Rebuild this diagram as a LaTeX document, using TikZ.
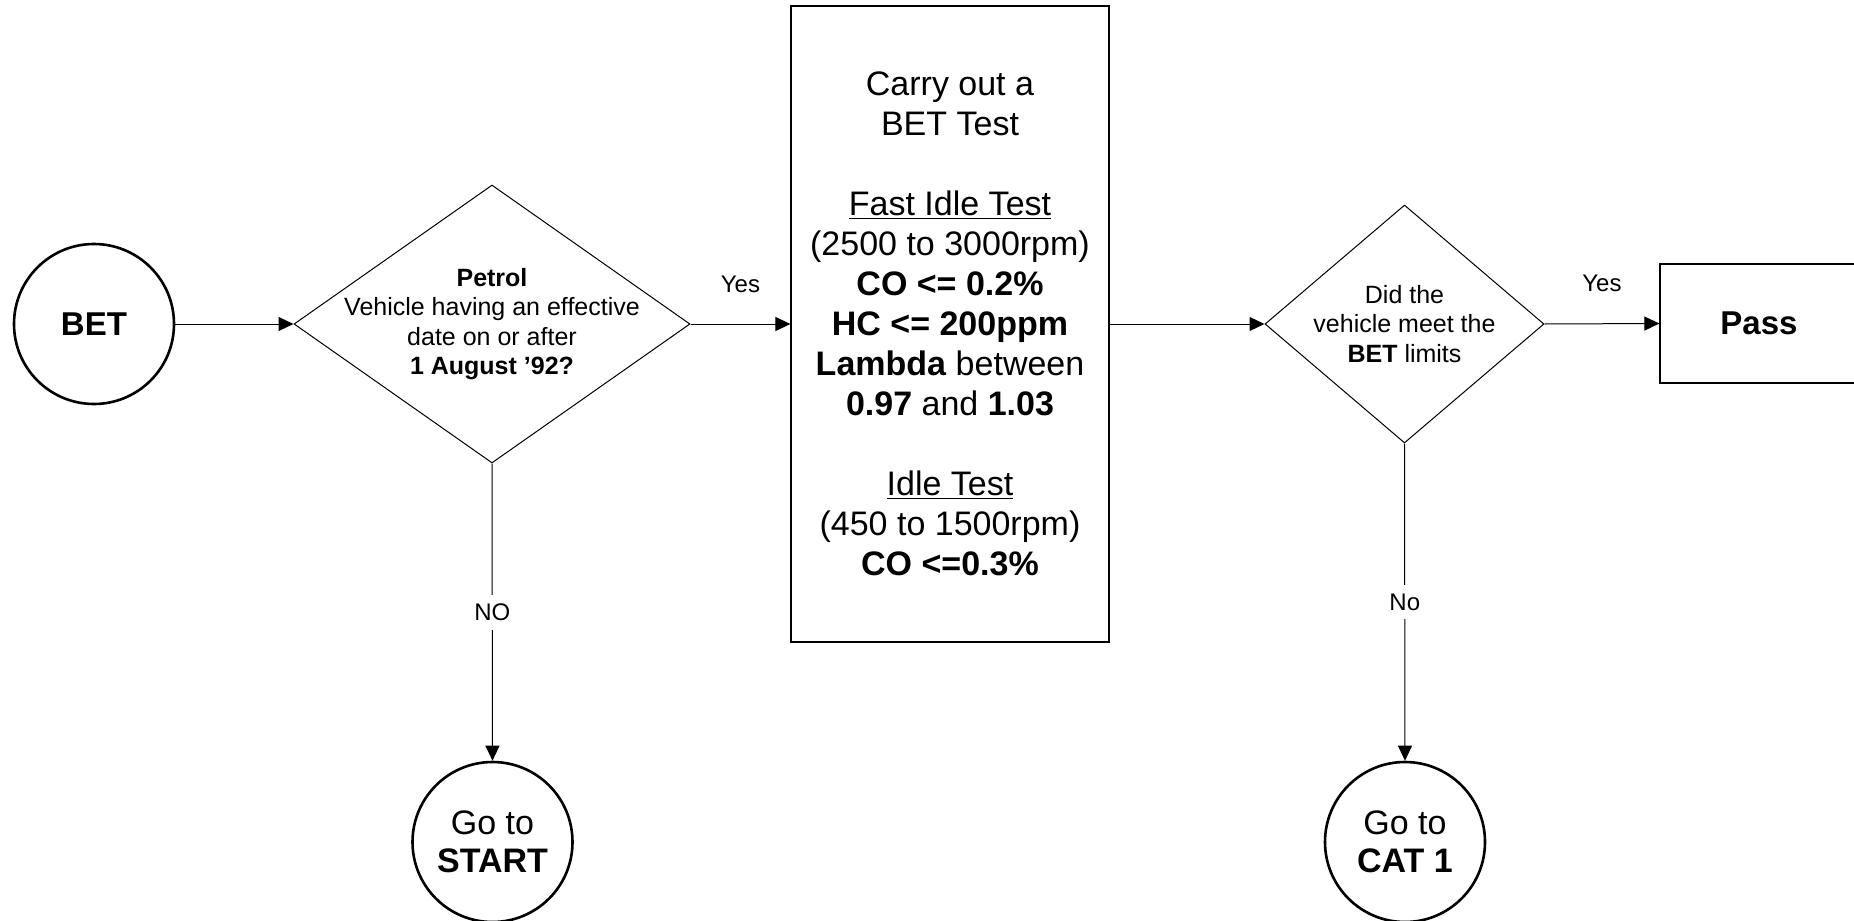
\documentclass[tikz,border=0pt]{standalone}
\usepackage{fontspec}
\setmainfont{Liberation Sans}
\usetikzlibrary{shapes.geometric,arrows.meta}
\begin{document}
\begin{tikzpicture}[x=0.5pt,y=-0.5pt,
  term/.style={circle,draw,line width=1.3pt,minimum size=80pt,inner sep=0pt,align=center,font=\fontsize{17}{19}\selectfont},
  dia/.style={diamond,draw,line width=0.5pt,inner sep=0pt},
  diatext/.style={align=center,inner sep=0pt,font=\fontsize{12.5}{14.75}\selectfont},
  procbox/.style={rectangle,draw,line width=0.6pt,inner sep=0pt},
  arr/.style={-{Triangle[length=7.5pt,width=7pt]},line width=0.5pt},
  lbl/.style={inner sep=0pt,font=\fontsize{12}{14}\selectfont},
  cutlbl/.style={fill=white,inner xsep=2pt,inner ysep=4.5pt,font=\fontsize{12}{14}\selectfont}]
\useasboundingbox (0,0) rectangle (1854,921);

\node[term,font=\fontsize{16.5}{19}\selectfont\bfseries] (bet) at (94,324) {BET};

\node[dia,minimum width=198pt,minimum height=139pt] (d1) at (492,324) {};
\node[diatext] (d1t) at (492,324) {\textbf{Petrol}\\Vehicle having an effective\\date on or after\\\textbf{1 August ’92?}};

\node[procbox,minimum width=159pt,minimum height=318pt] (box) at (950,324) {};
\node[align=center,inner sep=0pt,font=\fontsize{17}{20}\selectfont] (boxt) at (950,324) {Carry out a\\BET Test\\[20pt]\underline{Fast Idle Test}\\(2500 to 3000rpm)\\\textbf{CO <= 0.2\%}\\\textbf{HC <= 200ppm}\\\textbf{Lambda} between\\\textbf{0.97} and \textbf{1.03}\\[20pt]\underline{Idle Test}\\(450 to 1500rpm)\\\textbf{CO <=0.3\%}};

\node[dia,minimum width=139.5pt,minimum height=119pt] (d2) at (1404.5,324) {};
\node[diatext] (d2t) at (1404.5,324) {Did the\\vehicle meet the\\\textbf{BET} limits};

\node[procbox,minimum width=99pt,minimum height=59.5pt] (pass) at (1759,323.5) {};
\node[inner sep=0pt,font=\fontsize{16.5}{19}\selectfont\bfseries] (passt) at (1759,323.5) {Pass};

\node[term] (start) at (492.5,842) {Go to\\\textbf{START}};
\node[term] (cat) at (1405,842) {Go to\\\textbf{CAT 1}};

\draw[arr] (bet) -- (d1.west);
\draw[arr] (d1.east) -- node[lbl,midway,yshift=20pt] {Yes} (box.west);
\draw[arr] (box.east) -- (d2.west);
\draw[arr] (d2.east) -- node[lbl,midway,yshift=20pt] {Yes} (pass.west);
\draw[arr] (d1.south) -- node[cutlbl,midway] {NO} (start.north);
\draw[arr] (d2.south) -- node[cutlbl,midway] {No} (cat.north);
\end{tikzpicture}
\end{document}
